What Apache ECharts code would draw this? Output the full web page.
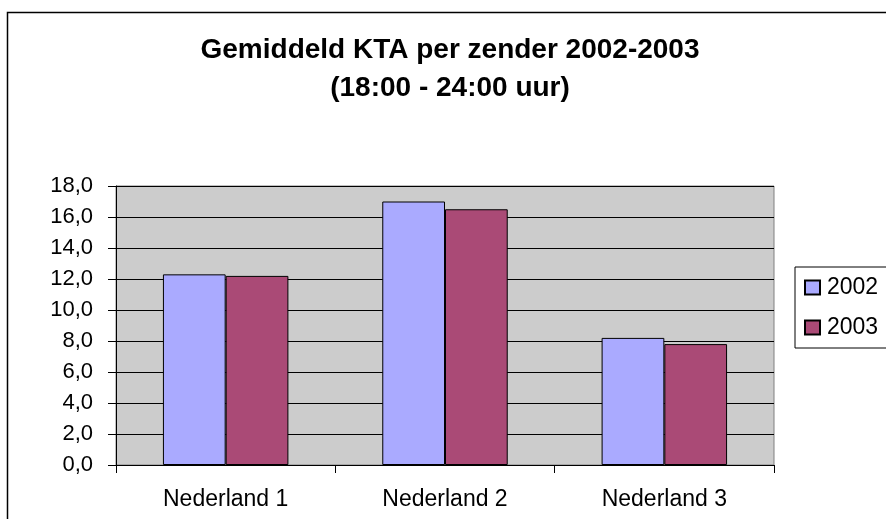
<!DOCTYPE html>
<html>
<head>
<meta charset="utf-8">
<script src="https://cdn.jsdelivr.net/npm/echarts@6/dist/echarts.min.js"></script>
<style>
html,body{margin:0;padding:0;background:#fff;}
#c{width:886px;height:519px;}
</style>
</head>
<body>
<div id="c"></div>
<script>
var categories = ['Nederland 1', 'Nederland 2', 'Nederland 3'];
var values2002 = [12.3, 17.0, 8.2];
var values2003 = [12.2, 16.5, 7.8];
var seriesNames = ['2002', '2003'];
var titleText = 'Gemiddeld KTA per zender 2002-2003\n(18:00 - 24:00 uur)';

var FONT = 'Liberation Sans';
var chart = echarts.init(document.getElementById('c'), null, {renderer: 'canvas'});
chart.setOption({
  animation: false,
  backgroundColor: '#ffffff',
  graphic: [{
    type: 'rect',
    left: 5, top: 10,
    shape: {width: 1000, height: 700},
    style: {fill: 'none', stroke: '#000', lineWidth: 1.5},
    z: -1
  }],
  title: {
    text: titleText,
    left: 445,
    top: 26,
    textAlign: 'center',
    textStyle: {fontFamily: FONT, fontSize: 28, fontWeight: 'bold', color: '#000', lineHeight: 38}
  },
  legend: {
    orient: 'vertical',
    left: 795,
    top: 267,
    padding: [9, 30, 9, 9],
    itemGap: 17,
    itemWidth: 15,
    itemHeight: 14,
    icon: 'rect',
    borderColor: '#000',
    borderWidth: 1,
    textStyle: {fontFamily: FONT, fontSize: 23, color: '#000', padding: [0, 0, 0, 2]},
    data: seriesNames
  },
  grid: {
    left: 116, top: 186, right: 112, bottom: 54,
    show: true,
    backgroundColor: '#CCCCCC',
    borderColor: '#808080',
    borderWidth: 1,
    containLabel: false
  },
  xAxis: {
    type: 'category',
    data: categories,
    axisLine: {lineStyle: {color: '#000', width: 1}},
    axisTick: {show: true, length: 8, inside: false, alignWithLabel: false, lineStyle: {color: '#000'}},
    axisLabel: {fontFamily: FONT, fontSize: 23, color: '#000', margin: 23},
    splitLine: {show: false}
  },
  yAxis: {
    type: 'value',
    min: 0, max: 18, interval: 2,
    axisLine: {show: true, lineStyle: {color: '#000', width: 1}},
    axisTick: {show: true, length: 8, inside: false, lineStyle: {color: '#000'}},
    axisLabel: {
      fontFamily: FONT, fontSize: 22, color: '#000', margin: 23,
      formatter: function (v) { return v.toFixed(1).replace('.', ','); }
    },
    splitLine: {show: true, lineStyle: {color: '#000', width: 1}}
  },
  series: [{
    name: seriesNames[0],
    type: 'bar',
    data: values2002,
    barWidth: '28.6%',
    barGap: '0%',
    itemStyle: {color: '#AAAAFF', borderColor: '#000', borderWidth: 1}
  }, {
    name: seriesNames[1],
    type: 'bar',
    data: values2003,
    barWidth: '28.6%',
    barGap: '0%',
    itemStyle: {color: '#AA4A76', borderColor: '#000', borderWidth: 1}
  }]
});
</script>
</body>
</html>
